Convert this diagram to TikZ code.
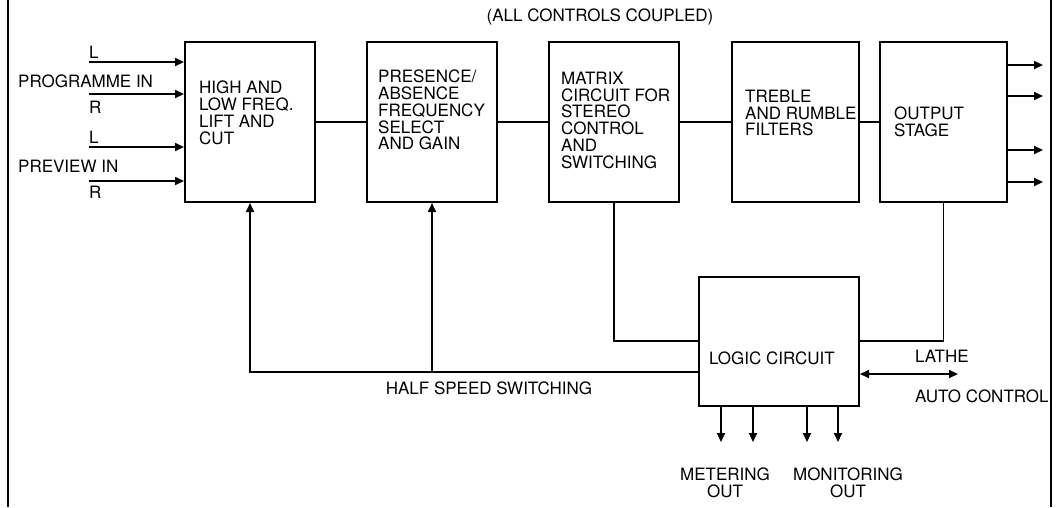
\documentclass[tikz,border=0pt]{standalone}
\usepackage{fontspec}
\setmainfont{TeX Gyre Heros}
\usetikzlibrary{arrows.meta}

\begin{document}
\begin{tikzpicture}[x=1pt,y=-1pt,
block/.style={draw, line width=2pt, minimum width=130pt, minimum height=160pt, inner sep=0pt},
txt/.style={inner sep=0pt, align=left, font=\fontsize{17}{16.7}\selectfont},
wire/.style={line width=1.7pt},
arr/.style={-{Triangle[length=9pt,width=8pt]}, line width=1.7pt},
dblarr/.style={{Triangle[length=9pt,width=8pt]}-{Triangle[length=9pt,width=8pt]}, line width=1.7pt}
]
\useasboundingbox (0,0) rectangle (1060,507);

% frame edges
\draw[line width=1.3pt] (8,0) -- (8,507);
\draw[line width=1.3pt] (1051,0) -- (1051,507);

% blocks
\node[block] (hilo) at (250,122) {};
\node[block] (presence) at (432,122) {};
\node[block] (matrix) at (614,122) {};
\node[block, minimum width=127pt] (filters) at (795.5,122) {};
\node[block, minimum width=127pt] (output) at (943.5,122) {};
\node[block, minimum width=160pt, minimum height=129pt] (logic) at (779,341) {};

\node[txt, anchor=north west] (hilotext) at ([xshift=15pt,yshift=-40pt]hilo.north west) {HIGH AND\\LOW FREQ.\\LIFT AND\\CUT};
\node[txt, anchor=north west] (presencetext) at ([xshift=12pt,yshift=-29pt]presence.north west) {PRESENCE/\\ABSENCE\\FREQUENCY\\SELECT\\AND GAIN};
\node[txt, anchor=north west] (matrixtext) at ([xshift=13pt,yshift=-31pt]matrix.north west) {MATRIX\\CIRCUIT FOR\\STEREO\\CONTROL\\AND\\SWITCHING};
\node[txt, anchor=north west] (filterstext) at ([xshift=14pt,yshift=-49pt]filters.north west) {TREBLE\\AND RUMBLE\\FILTERS};
\node[txt, anchor=north west] (outputtext) at ([xshift=15pt,yshift=-66pt]output.north west) {OUTPUT\\STAGE};
\node[txt, anchor=west] (logictext) at ([xshift=11pt,yshift=-17pt]logic.west) {LOGIC CIRCUIT};

\node[txt] (coupled) at (600,17) {(ALL CONTROLS COUPLED)};

% inputs
\coordinate (progL) at (89,62);
\coordinate (progR) at (89,94);
\coordinate (prevL) at (89,147);
\coordinate (prevR) at (89,181);
\draw[arr] (progL) -- (progL -| hilo.west);
\draw[arr] (progR) -- (progR -| hilo.west);
\draw[arr] (prevL) -- (prevL -| hilo.west);
\draw[arr] (prevR) -- (prevR -| hilo.west);
\node[txt, anchor=west] (progLtxt) at (89,52) {L};
\node[txt, anchor=west] (progtxt) at (18,81) {PROGRAMME IN};
\node[txt, anchor=west] (progRtxt) at (89,107) {R};
\node[txt, anchor=west] (prevLtxt) at (89,137) {L};
\node[txt, anchor=west] (prevtxt) at (18,166) {PREVIEW IN};
\node[txt, anchor=west] (prevRtxt) at (89,192) {R};

% chain
\draw[wire] (hilo) -- (presence);
\draw[wire] (presence) -- (matrix);
\draw[wire] (matrix) -- (filters);
\draw[wire] (filters) -- (output);

% outputs
\foreach \y [count=\i] in {65,96,150,182} {
  \coordinate (out\i) at (1043,\y);
  \draw[arr] (output.east |- out\i) -- (out\i);
}

% logic links
\coordinate (hsrow) at (0,372);
\draw[arr] (logic.west |- hsrow) -| (hilo.south);
\draw[arr] (presence.south |- hsrow) -- (presence.south);
\draw[wire] (matrix.south) |- (logic.west);
\draw[wire] (output.south) |- (logic.east);
\node[txt] (halfspeed) at (489,388) {HALF SPEED SWITCHING};

\coordinate (lathe) at (958,374);
\draw[dblarr] (logic.east |- lathe) -- (lathe);
\node[txt, anchor=west] (lathetxt) at (915,356) {LATHE};
\node[txt, anchor=west] (autotxt) at (915,396) {AUTO CONTROL};

\foreach \x/\n in {721/a,753/b,807/c,838/d} {
  \coordinate (tap\n) at (\x,442);
  \draw[arr] (logic.south -| tap\n) -- (tap\n);
}
\node[txt, align=center] (metering) at (725,483) {METERING\\OUT};
\node[txt, align=center] (monitoring) at (848,483) {MONITORING\\OUT};
\end{tikzpicture}
\end{document}
